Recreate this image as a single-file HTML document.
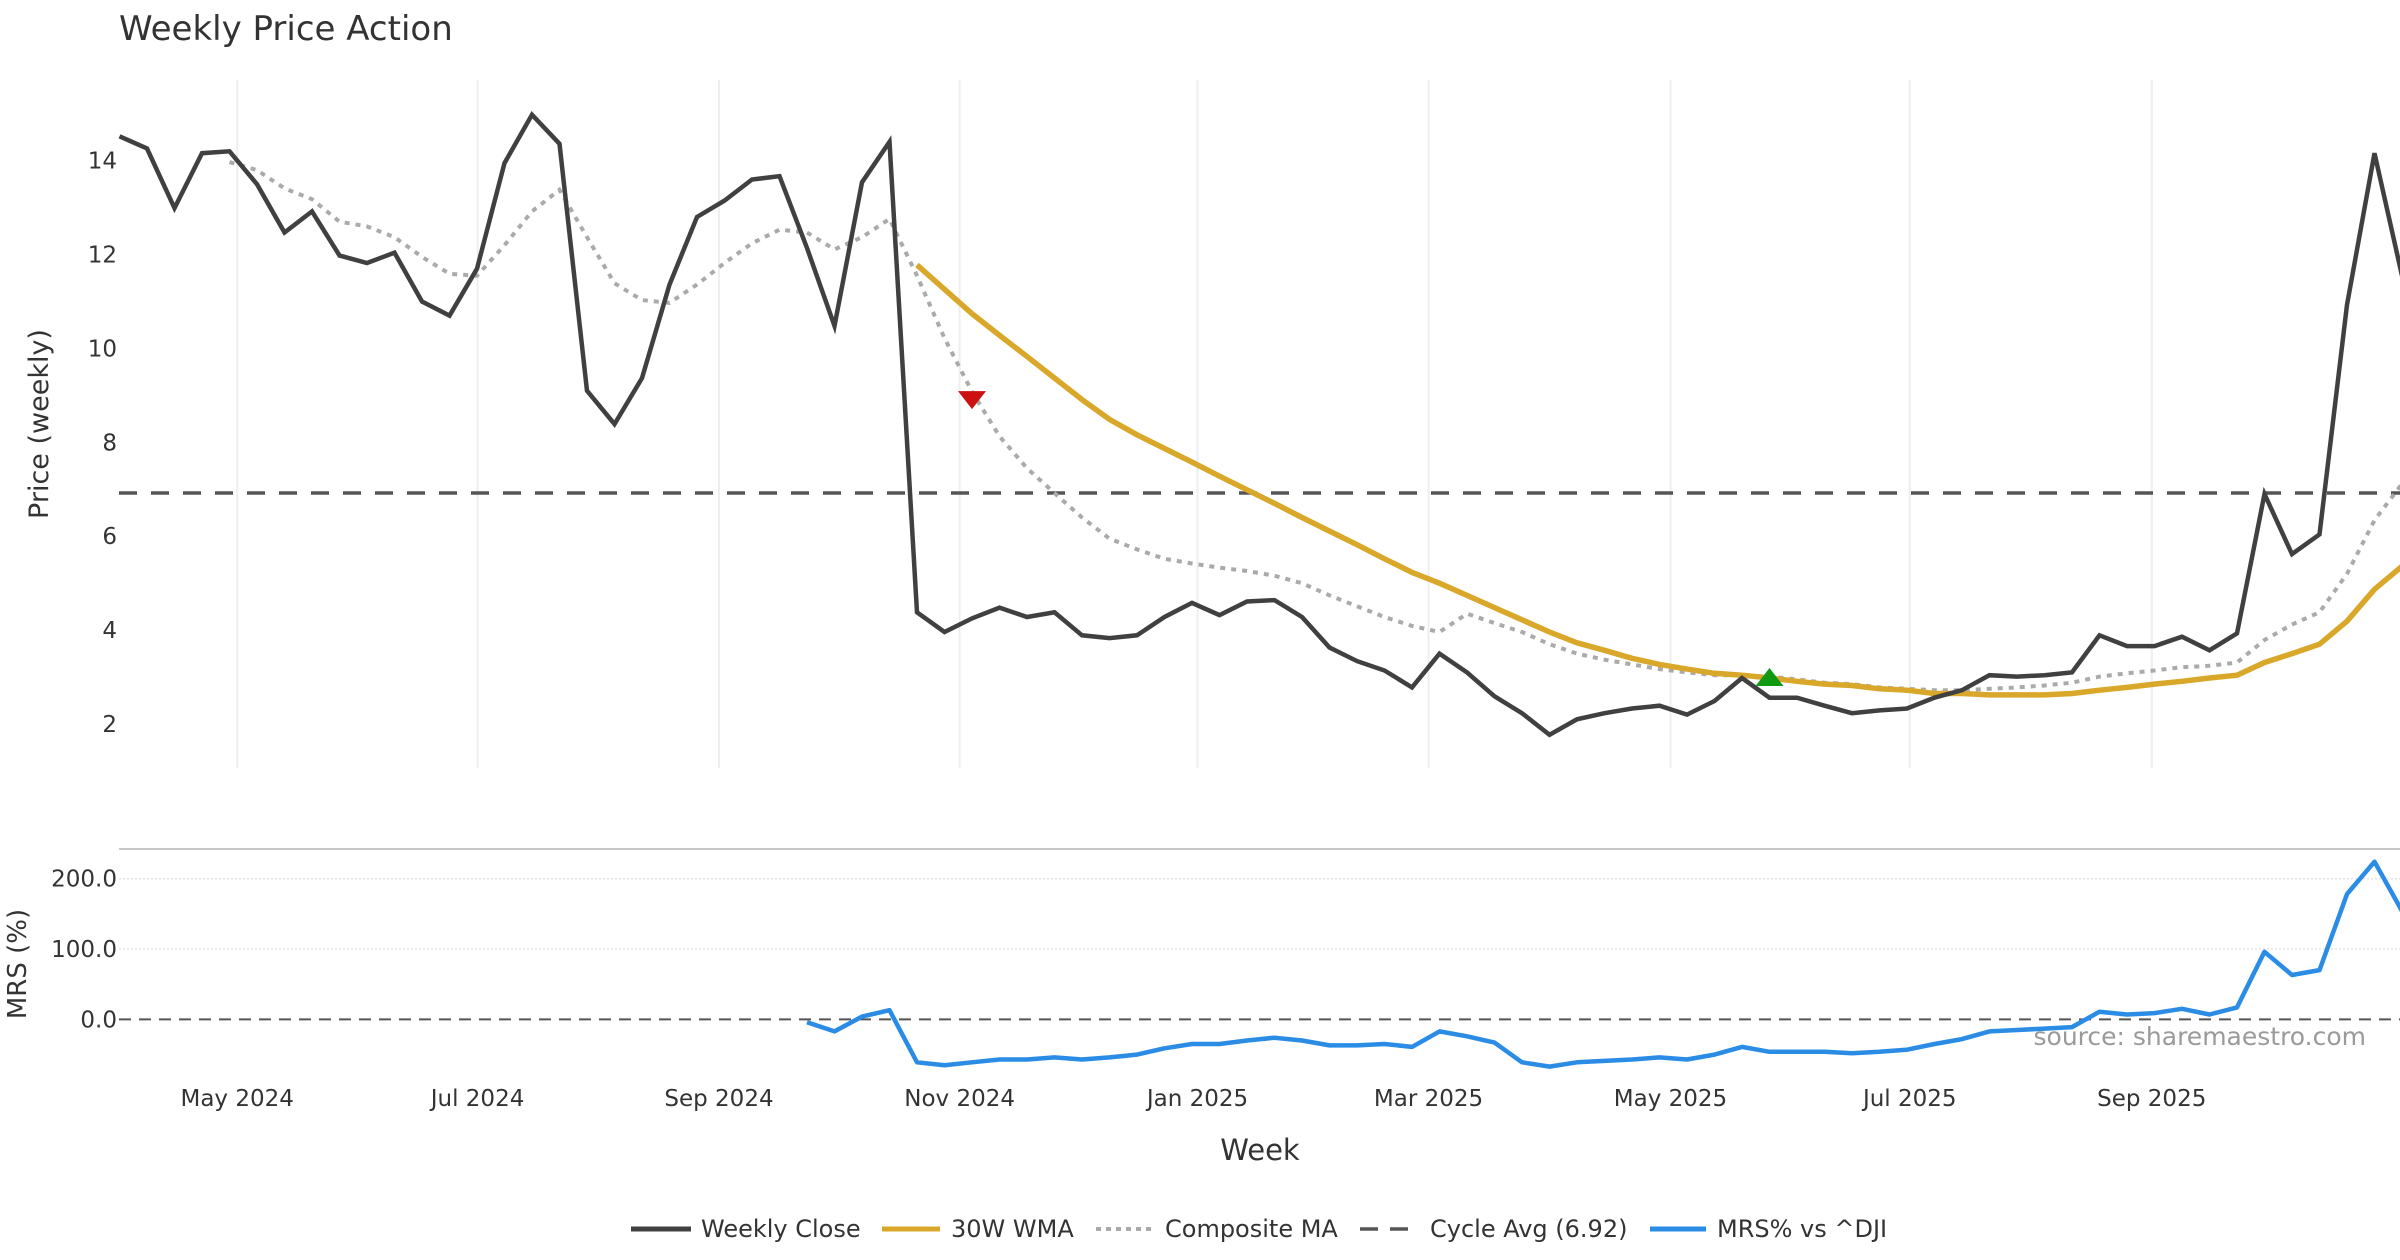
<!DOCTYPE html>
<html><head><meta charset="utf-8"><style>
html,body{margin:0;padding:0;background:#fff;width:2400px;height:1260px;overflow:hidden}
svg{display:block;font-family:"DejaVu Sans","Liberation Sans",sans-serif}
</style></head><body>
<svg id="chart" width="2400" height="1260" viewBox="0 0 2400 1260" xmlns="http://www.w3.org/2000/svg">
<text x="119" y="40" font-size="34" fill="#333">Weekly Price Action</text>
<g id="grid"></g>
<g id="main"></g>
<g id="lower"></g>
<text transform="translate(48,424) rotate(-90)" text-anchor="middle" font-size="27" fill="#333">Price (weekly)</text>
<text transform="translate(26,964) rotate(-90)" text-anchor="middle" font-size="26" fill="#333">MRS (%)</text>
<text x="1260" y="1160" text-anchor="middle" font-size="29" fill="#333">Week</text>
<text x="2366" y="1045" text-anchor="end" font-size="25" fill="#9a9a9a">source: sharemaestro.com</text>
<g id="legend" font-size="24" fill="#333">
  <g><line x1="631" y1="1229" x2="691" y2="1229" stroke="#404040" stroke-width="5"/><text x="701" y="1237">Weekly Close</text></g>
  <g><line x1="882" y1="1229" x2="940" y2="1229" stroke="#d9a82a" stroke-width="5"/><text x="951" y="1237">30W WMA</text></g>
  <g><line x1="1096" y1="1229" x2="1152" y2="1229" stroke="#aaa" stroke-width="4" stroke-dasharray="5,5"/><text x="1165" y="1237">Composite MA</text></g>
  <g><line x1="1360" y1="1229" x2="1416" y2="1229" stroke="#555" stroke-width="3.5" stroke-dasharray="18,12"/><text x="1430" y="1237">Cycle Avg (6.92)</text></g>
  <g><line x1="1650" y1="1229" x2="1706" y2="1229" stroke="#2b8ce6" stroke-width="5"/><text x="1717" y="1237">MRS% vs ^DJI</text></g>
</g>
</svg>
<script>
const closeVals=[14.52,14.26,12.99,14.16,14.2,13.5,12.47,12.92,11.98,11.82,12.04,11.0,10.7,11.7,13.95,14.98,14.36,9.1,8.39,9.37,11.36,12.8,13.15,13.6,13.67,12.14,10.48,13.54,14.4,4.38,3.96,4.25,4.48,4.28,4.38,3.89,3.83,3.89,4.28,4.58,4.32,4.61,4.64,4.28,3.63,3.34,3.14,2.78,3.5,3.1,2.59,2.23,1.77,2.1,2.23,2.33,2.39,2.2,2.49,2.98,2.56,2.56,2.39,2.23,2.29,2.33,2.56,2.72,3.04,3.01,3.04,3.1,3.89,3.66,3.66,3.86,3.57,3.93,6.9,5.62,6.04,10.93,14.16,11.55];
const wmaStart=29;
const wmaVals=[11.78,11.26,10.74,10.28,9.83,9.37,8.91,8.49,8.16,7.87,7.58,7.28,6.99,6.7,6.4,6.11,5.82,5.52,5.23,5.0,4.74,4.48,4.22,3.96,3.73,3.57,3.4,3.27,3.17,3.08,3.04,2.98,2.91,2.85,2.82,2.75,2.72,2.65,2.65,2.62,2.62,2.62,2.65,2.72,2.78,2.85,2.91,2.98,3.04,3.31,3.5,3.7,4.19,4.87,5.36];
const compStart=4;
const compVals=[13.97,13.8,13.41,13.18,12.7,12.6,12.37,11.95,11.59,11.55,12.2,12.92,13.38,12.37,11.39,11.03,10.97,11.36,11.82,12.24,12.53,12.47,12.11,12.37,12.76,11.55,10.22,9.08,8.13,7.45,6.92,6.4,5.95,5.72,5.52,5.42,5.33,5.26,5.16,5.0,4.74,4.51,4.28,4.09,3.96,4.35,4.15,3.96,3.7,3.5,3.37,3.27,3.17,3.1,3.04,3.04,3.01,2.95,2.88,2.85,2.78,2.75,2.72,2.72,2.75,2.78,2.82,2.88,3.01,3.08,3.14,3.21,3.24,3.31,3.79,4.12,4.38,5.2,6.34,7.12];
const mrsStart=25;
const mrsVals=[-4,-17,4,13,-61,-65,-61,-57,-57,-54,-57,-54,-50,-41,-35,-35,-30,-26,-30,-37,-37,-35,-39,-17,-24,-33,-61,-67,-61,-59,-57,-54,-57,-50,-39,-46,-46,-46,-48,-46,-43,-35,-28,-17,-15,-13,-11,11,7,9,15,7,17,96,63,70,178,224,154];
const cycleAvg=6.92;
const sellSignals=[{i:31,v:8.9}];
const buySignals=[{i:60,v:3.0}];
const monthLabels=["May 2024","Jul 2024","Sep 2024","Nov 2024","Jan 2025","Mar 2025","May 2025","Jul 2025","Sep 2025"];
const monthPos=[4.28,13.02,21.8,30.55,39.2,47.6,56.4,65.1,73.9];
const priceTicks=[2,4,6,8,10,12,14];
const mrsTicks=[0,100,200];

const NS="http://www.w3.org/2000/svg";
const X0=119.5, DX=27.5;
const xS=i=>X0+i*DX;
const yP=v=>724-(v-2)*46.94;
const yM=v=>1019.4-v*0.704;
function mk(tag,attrs,parent){const e=document.createElementNS(NS,tag);for(const k in attrs)e.setAttribute(k,attrs[k]);parent.appendChild(e);return e;}
const grid=document.getElementById('grid'),main=document.getElementById('main'),lower=document.getElementById('lower');

monthPos.forEach((p,k)=>{
  const g=mk('line',{x1:xS(p),x2:xS(p),y1:80,y2:768,stroke:'#eceff2','stroke-width':2},grid);
  
  
  const t=mk('text',{x:xS(p),y:1106,'text-anchor':'middle','font-size':23,fill:'#333'},grid);
  t.textContent=monthLabels[k];
  
  
});
priceTicks.forEach(v=>{
  const t=mk('text',{x:117,y:yP(v)+8,'text-anchor':'end','font-size':23,fill:'#333'},grid);
  t.textContent=v;
  
  
});
const sep=mk('line',{x1:119,x2:2400,y1:849,y2:849,stroke:'#c8c8c8','stroke-width':2},lower);


mrsTicks.forEach(v=>{
  if(v>0){const gl=mk('line',{x1:119,x2:2400,y1:yM(v),y2:yM(v),stroke:'#e4e4e4','stroke-width':1.5,'stroke-dasharray':'2,2'},lower);
  
  }
  const t=mk('text',{x:117,y:yM(v)+8,'text-anchor':'end','font-size':23,fill:'#333'},lower);
  t.textContent=v.toFixed(1);
  
  
});
const zl=mk('line',{x1:119,x2:2400,y1:yM(0),y2:yM(0),stroke:'#555','stroke-width':2,'stroke-dasharray':'12,8'},lower);



function pts(vals,start,yf){return vals.map((v,k)=>xS(start+k).toFixed(1)+','+yf(v).toFixed(1)).join(' ');}

const cyc=mk('line',{x1:119,x2:2400,y1:yP(cycleAvg),y2:yP(cycleAvg),stroke:'#555','stroke-width':3.5,'stroke-dasharray':'18,14'},main);


const comp=mk('polyline',{points:pts(compVals,compStart,yP),fill:'none',stroke:'#aaa','stroke-width':4,'stroke-dasharray':'5,6'},main);


const wma=mk('polyline',{points:pts(wmaVals,wmaStart,yP),fill:'none',stroke:'#d9a82a','stroke-width':5.5,'stroke-linejoin':'round'},main);


const cl=mk('polyline',{points:pts(closeVals,0,yP),fill:'none',stroke:'#404040','stroke-width':4.5,'stroke-linejoin':'miter'},main);


sellSignals.forEach(s=>{const x=xS(s.i),y=yP(s.v);
  const p=mk('polygon',{points:`${x-14},${y-9} ${x+14},${y-9} ${x},${y+9}`,fill:'#cc1111'},main);
  
  });
buySignals.forEach(s=>{const x=xS(s.i),y=yP(s.v);
  const p=mk('polygon',{points:`${x-14},${y+9} ${x+14},${y+9} ${x},${y-9}`,fill:'#119911'},main);
  
  });
const mrs=mk('polyline',{points:pts(mrsVals,mrsStart,yM),fill:'none',stroke:'#2b8ce6','stroke-width':4.5,'stroke-linejoin':'round'},lower);


</script>
</body></html>
